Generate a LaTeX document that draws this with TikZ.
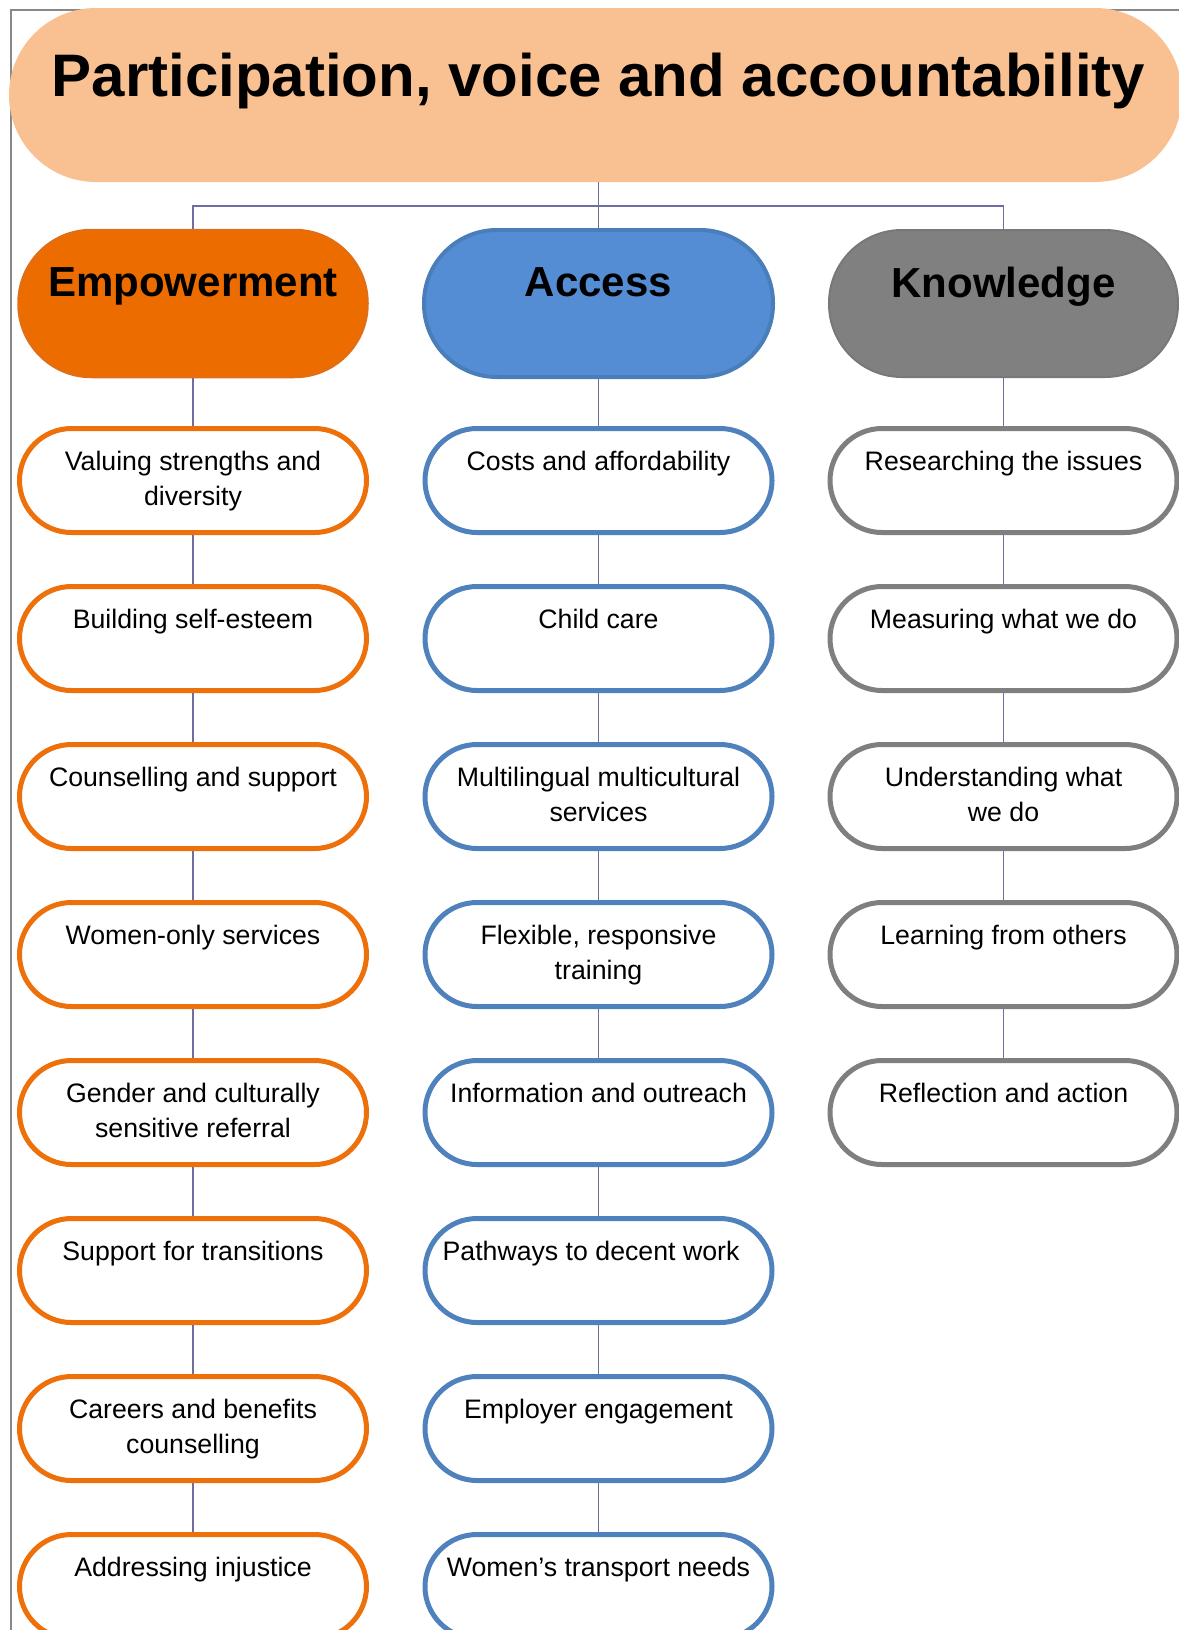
\documentclass[tikz,border=0pt]{standalone}
\usepackage{fontspec}
\setmainfont{Liberation Sans}
\begin{document}
\definecolor{titlefill}{RGB}{249,192,146}
\definecolor{empfill}{RGB}{236,108,0}
\definecolor{empline}{RGB}{226,110,20}
\definecolor{accfill}{RGB}{84,141,212}
\definecolor{accline}{RGB}{74,126,187}
\definecolor{knofill}{RGB}{128,128,128}
\definecolor{knoline}{RGB}{120,120,120}
\definecolor{orng}{RGB}{237,112,10}
\definecolor{blu}{RGB}{79,129,189}
\definecolor{gry}{RGB}{127,127,127}
\definecolor{conn}{RGB}{110,110,160}
\definecolor{frame}{RGB}{136,136,136}
\begin{tikzpicture}[x=1pt,y=-1pt,
  titlebox/.style={fill=titlefill,rounded corners=87pt,minimum width=1173pt,minimum height=174pt,inner sep=0pt},
  headbox/.style={line width=#1,rounded corners=73pt,minimum width=349pt,minimum height=147pt,inner sep=0pt},
  itembox/.style={draw=#1,fill=white,line width=5pt,rounded corners=52pt,minimum width=347pt,minimum height=104pt,inner sep=0pt},
  titletext/.style={anchor=base,inner sep=0pt,font=\fontsize{60pt}{70pt}\selectfont\bfseries},
  headtext/.style={anchor=base,inner sep=0pt,font=\fontsize{42pt}{50pt}\selectfont\bfseries},
  itemtext/.style={anchor=base,inner sep=0pt,font=\fontsize{26.7pt}{35.2pt}\selectfont},
  link/.style={draw=conn,line width=1.5pt}]
\useasboundingbox (0,0) rectangle (1178,1630);
% page frame
\draw[frame,line width=1.5pt] (11,1640) -- (11,10) -- (1190,10);
% title
\node[titlebox] (title) at (595.5,95) {};
\node[titletext] (titlelbl) at ([xshift=3pt,yshift=-89pt]title.north) {Participation, voice and accountability};
% column heads
\node[headbox=2.5pt,draw=empline,fill=empfill] (emp) at (193,303.5) {};
\node[headbox=4pt,draw=accline,fill=accfill] (acc) at (598.5,303.5) {};
\node[headbox=2pt,draw=knoline,fill=knofill] (kno) at (1003.5,303.5) {};
\node[headtext] (emplbl) at ([yshift=-68pt]emp.north) {Empowerment};
\node[headtext] (acclbl) at ([yshift=-68pt]acc.north) {Access};
\node[headtext] (knolbl) at ([yshift=-68pt]kno.north) {Knowledge};
% item boxes: eight under the first two heads, five under the third
\foreach \i in {1,...,8}{
  \node[itembox=orng] (e\i) at (193,{480.5+158*(\i-1)}) {};
  \node[itembox=blu] (a\i) at (598.5,{480.5+158*(\i-1)}) {};
}
\foreach \i in {1,...,5}{
  \node[itembox=gry] (k\i) at (1003.5,{480.5+158*(\i-1)}) {};
}
\foreach \n/\t in {
  e1/{Valuing strengths and\\diversity},
  e2/{Building self-esteem},
  e3/{Counselling and support},
  e4/{Women-only services},
  e5/{Gender and culturally\\sensitive referral},
  e6/{Support for transitions},
  e7/{Careers and benefits\\counselling},
  e8/{Addressing injustice},
  a1/{Costs and affordability},
  a2/{Child care},
  a3/{Multilingual multicultural\\services},
  a4/{Flexible, responsive\\training},
  a5/{Information and outreach},
  a6/{Pathways to decent work\hspace*{15pt}},
  a7/{Employer engagement},
  a8/{Women’s transport needs},
  k1/{Researching the issues},
  k2/{Measuring what we do},
  k3/{Understanding what\\we do},
  k4/{Learning from others},
  k5/{Reflection and action}}{
  \node[itemtext] (\n lbl) at ([yshift=-44.5pt]\n.north) {\parbox[t]{345pt}{\centering \t}};
}
% connectors
\coordinate (bus) at (598.5,206);
\draw[link] (bus |- title.south) -- (bus) -- (acc.north);
\draw[link] (emp.north) -- (emp.north |- bus) -- (kno.north |- bus) -- (kno.north);
\draw[link] (emp.south) -- (e1.north);
\draw[link] (acc.south) -- (a1.north);
\draw[link] (kno.south) -- (k1.north);
\foreach \i [evaluate=\i as \j using int(\i+1)] in {1,...,7}{
  \draw[link] (e\i.south) -- (e\j.north);
  \draw[link] (a\i.south) -- (a\j.north);
}
\foreach \i [evaluate=\i as \j using int(\i+1)] in {1,...,4}{
  \draw[link] (k\i.south) -- (k\j.north);
}
\end{tikzpicture}
\end{document}
